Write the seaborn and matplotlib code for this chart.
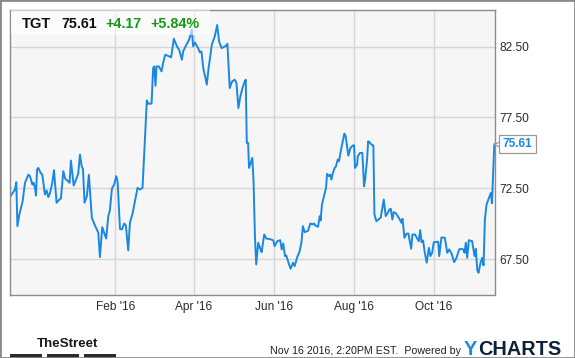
import numpy as np
import pandas as pd
import matplotlib
matplotlib.use("Agg")
import matplotlib.pyplot as plt
import matplotlib.transforms as mtransforms
from matplotlib.patches import Rectangle
import seaborn as sns

# ---------------- data ----------------
base_date = "2016-02-01"
# calendar days relative to 2016-02-01
days_from_feb1 = [
    -79.9, -76.4, -75.4, -74.6, -73.1, -70.6, -68.8, -66.2, -65.0, -63.2,
    -62.2, -61.2, -60.4, -59.6, -58.6, -56.9, -55.6, -53.6, -52.3, -51.0,
    -49.7, -48.0, -46.7, -44.7, -42.6, -41.4, -39.6, -38.1, -35.8, -34.8,
    -33.8, -31.7, -30.2, -28.2, -26.9, -25.6, -24.6, -23.4, -21.6, -20.1,
    -17.8, -16.0, -12.9, -11.7, -9.9, -8.4, -6.9, -5.3, -4.1, -2.5,
    -0.8, 0.8, 1.8, 3.6, 5.1, 6.9, 8.1, 9.9, 11.2, 13.2,
    15.0, 17.0, 18.8, 20.8, 24.1, 25.1, 27.7, 28.9, 29.7, 30.7,
    31.5, 33.2, 35.3, 36.5, 38.1, 40.1, 42.6, 44.7, 47.0, 48.7,
    50.8, 51.8, 53.6, 56.3, 58.4, 59.4, 60.7, 63.2, 64.5, 65.7,
    67.3, 68.8, 69.8, 71.3, 72.1, 73.6, 75.9, 77.7, 79.2, 81.0,
    82.7, 84.5, 85.5, 87.3, 89.1, 91.1, 92.4, 93.9, 95.4, 97.0,
    98.7, 99.5, 100.3, 101.3, 102.0, 102.9, 104.5, 105.5, 106.5, 107.5,
    109.0, 110.6, 111.6, 113.6, 115.1, 119.0, 120.5, 121.5, 123.5, 125.8,
    126.9, 128.1, 129.4, 130.4, 132.5, 133.7, 135.5, 136.8, 138.6, 140.6,
    141.9, 143.1, 144.4, 147.0, 148.7, 150.3, 151.5, 152.6, 154.6, 155.9,
    156.6, 157.6, 159.2, 160.7, 161.5, 163.0, 164.0, 164.8, 166.0, 167.3,
    168.3, 169.6, 170.6, 171.9, 173.2, 174.7, 175.7, 176.7, 177.7, 179.3,
    181.1, 182.1, 182.8, 184.4, 184.9, 186.6, 188.4, 189.7, 190.5, 192.0,
    192.8, 194.0, 195.3, 196.8, 197.6, 199.1, 200.6, 202.4, 204.7, 206.2,
    207.8, 209.0, 210.1, 211.3, 212.3, 213.6, 215.4, 216.9, 218.2, 219.0,
    220.5, 222.0, 223.5, 225.6, 226.6, 228.6, 230.2, 231.4, 232.5, 233.5,
    234.7, 236.0, 237.5, 239.1, 240.3, 241.6, 242.9, 246.2, 247.0, 248.7,
    251.3, 253.1, 254.6, 256.4, 258.4, 260.2, 262.2, 264.0, 265.3, 266.3,
    267.3, 268.3, 269.6, 272.1, 273.9, 274.9, 276.0, 277.0, 278.5, 279.8,
    280.8, 281.8, 283.1, 284.9, 286.4, 287.2, 289.0,
]
prices = [
    71.94, 72.41, 72.92, 69.82, 70.64, 71.58, 72.88, 73.46, 73.35, 72.76,
    72.88, 72.52, 71.98, 73.82, 73.93, 73.58, 73.46, 72.05, 72.34, 71.87,
    72.17, 72.88, 73.77, 71.47, 71.70, 71.77, 73.70, 73.16, 72.99, 72.88,
    74.45, 72.69, 73.02, 73.53, 74.87, 74.05, 73.86, 71.47, 71.94, 73.44,
    70.41, 69.99, 69.35, 67.64, 69.75, 69.33, 68.95, 70.53, 70.93, 72.48,
    72.76, 73.35, 72.99, 69.63, 69.59, 70.01, 69.87, 68.11, 70.06, 70.71,
    71.56, 72.52, 72.41, 72.52, 78.70, 78.47, 78.47, 80.98, 81.10, 79.74,
    81.10, 81.10, 80.75, 81.34, 81.92, 81.85, 81.74, 83.05, 82.51, 82.28,
    81.57, 82.16, 82.51, 82.98, 83.69, 82.51, 82.79, 82.39, 82.09, 82.16,
    80.87, 80.28, 79.81, 81.10, 81.57, 82.63, 83.22, 84.02, 82.86, 82.39,
    82.46, 82.56, 82.70, 79.57, 80.04, 80.16, 79.93, 78.16, 78.99, 79.57,
    80.04, 80.16, 75.70, 75.70, 73.93, 74.17, 74.64, 72.88, 69.12, 67.12,
    68.65, 68.22, 67.99, 69.23, 68.95, 68.88, 68.81, 68.41, 68.76, 68.83,
    68.18, 68.60, 67.71, 67.75, 67.12, 66.81, 67.24, 67.00, 67.59, 68.06,
    68.65, 69.82, 69.40, 69.49, 70.01, 69.94, 70.01, 69.87, 69.77, 70.53,
    70.22, 71.35, 71.94, 72.52, 73.51, 73.35, 73.46, 73.11, 73.58, 73.93,
    74.05, 74.52, 74.40, 75.11, 75.70, 76.35, 76.17, 75.46, 74.80, 75.34,
    75.51, 75.53, 73.93, 74.17, 74.76, 74.99, 74.99, 72.64, 73.11, 74.52,
    75.81, 75.74, 75.58, 75.51, 70.64, 70.17, 70.29, 70.41, 71.70, 70.53,
    70.76, 71.00, 71.04, 70.29, 70.81, 70.76, 70.53, 70.29, 70.06, 70.34,
    69.00, 69.28, 69.30, 68.22, 69.23, 69.23, 68.95, 68.76, 69.54, 68.69,
    68.81, 67.94, 67.24, 68.29, 67.71, 67.94, 68.69, 68.72, 67.71, 69.02,
    69.00, 67.94, 68.18, 67.89, 67.28, 67.59, 68.18, 68.22, 68.18, 67.94,
    68.65, 67.59, 68.83, 68.76, 67.71, 68.22, 66.72, 66.53, 67.24, 67.59,
    67.05, 70.29, 71.35, 71.82, 72.17, 71.44, 75.61,
]
assert len(days_from_feb1) == len(prices), (len(days_from_feb1), len(prices))

ytick_values = [67.5, 72.5, 77.5, 82.5]
ytick_labels = ["67.50", "72.50", "77.50", "82.50"]
xtick_dates = ["2016-02-01", "2016-04-01", "2016-06-01", "2016-08-01", "2016-10-01"]
xtick_labels = ["Feb '16", "Apr '16", "Jun '16", "Aug '16", "Oct '16"]

ticker = "TGT"
last_price = "75.61"
change = "+4.17"
change_pct = "+5.84%"
footer_stamp = "Nov 16 2016, 2:20PM EST.  Powered by"

# ---------------- styling ----------------
sns.set_theme(style="white")
plt.rcParams["font.family"] = ["Liberation Sans", "DejaVu Sans"]

W, H = 575, 358
fig = plt.figure(figsize=(W / 100, H / 100), dpi=100)
fig.patch.set_facecolor("white")

def fx(px):
    return px / W

def fy(py):
    return 1 - py / H

left, right, top, bottom = 10.3, 494.7, 10.3, 295.0
ax = fig.add_axes([fx(left), fy(bottom), (right - left) / W, (bottom - top) / H])
ax.set_facecolor("#f6f6f6")

base = pd.Timestamp(base_date)
df = pd.DataFrame({
    "date": base + pd.to_timedelta(days_from_feb1, unit="D"),
    "price": prices,
})
line_color = "#1a88e3"
sns.lineplot(data=df, x="date", y="price", ax=ax, color=line_color,
             linewidth=1.4, zorder=2)

ax.set_xlim(base + pd.Timedelta(days=-80.0), base + pd.Timedelta(days=289.3))
ax.set_ylim(64.96, 85.06)

ax.yaxis.tick_right()
ax.set_yticks(ytick_values)
ax.set_yticklabels(ytick_labels)
ax.set_xticks(pd.to_datetime(xtick_dates))
ax.set_xticklabels(xtick_labels)
ax.set_xlabel("")
ax.set_ylabel("")
ax.grid(True, color="#d6d6d6", linewidth=1.0, zorder=0)
ax.set_axisbelow(True)
ax.tick_params(axis="both", length=0, labelsize=8.6, labelcolor="#2a2a2a")
ax.tick_params(axis="y", pad=3.2)
ax.tick_params(axis="x", pad=4.6)
for s in ax.spines.values():
    s.set_visible(True)
    s.set_color("#8c8c8c")
    s.set_linewidth(1.0)

# semi-transparent title box
ax.add_patch(Rectangle((fx(11), fy(35)), 199 / W, 24.7 / H,
                       transform=fig.transFigure, facecolor="white",
                       alpha=0.6, edgecolor="none", zorder=3))

# last price tag on right axis
blend = mtransforms.blended_transform_factory(ax.transAxes, ax.transData)
ax.plot([1.0085], [prices[-1]], marker="<", markersize=7.5,
        markerfacecolor="white", markeredgecolor="#9a9a9a",
        markeredgewidth=0.9, transform=blend, clip_on=False, zorder=5)
ax.text(1.0168, prices[-1], last_price, transform=blend, ha="left",
        va="center", fontsize=8.6, fontweight="bold", color=line_color,
        zorder=6, clip_on=False,
        bbox=dict(boxstyle="square,pad=0.28", facecolor="white",
                  edgecolor="#9a9a9a", linewidth=0.9))

# title
title_y = fy(28.3)
fig.text(fx(21.7), title_y, ticker, fontsize=10.6, fontweight="bold",
         color="#111111", va="baseline", zorder=5)
fig.text(fx(61), title_y, last_price, fontsize=10.3, fontweight="bold",
         color="#111111", va="baseline", zorder=5)
green = "#139a13"
fig.text(fx(105), title_y, change, fontsize=10.3, fontweight="bold",
         color=green, va="baseline", zorder=5)
fig.text(fx(150), title_y, change_pct, fontsize=10.3, fontweight="bold",
         color=green, va="baseline", zorder=5)

# footer
fig.text(fx(37), fy(347), "TheStreet", fontsize=9.6, fontweight="bold",
         family=["Liberation Sans Narrow", "Liberation Sans", "DejaVu Sans"],
         color="#1a1a1a", va="baseline")
for x0, x1 in [(10, 42), (47, 79), (84, 116)]:
    fig.add_artist(Rectangle((fx(x0), fy(357.5)), (x1 - x0) / W, 4 / H,
                             transform=fig.transFigure, facecolor="#2b2b2b",
                             edgecolor="none"))
fig.text(fx(269.5), fy(354.5), footer_stamp, fontsize=7.7, color="#1f1f1f",
         va="baseline")
fig.text(fx(464), fy(355), "Y", fontsize=14.3, fontweight="bold",
         color="#1a8ce3", va="baseline")
fig.text(fx(478.5), fy(355), "CHARTS", fontsize=14.3, fontweight="bold",
         color="#0d2238", va="baseline")

# outer figure border
fig.add_artist(Rectangle((0, 0), 1, 1, transform=fig.transFigure, fill=False,
                         edgecolor="#8a8a8a", linewidth=2.0))

fig.savefig("out.png", dpi=100, facecolor="white")
